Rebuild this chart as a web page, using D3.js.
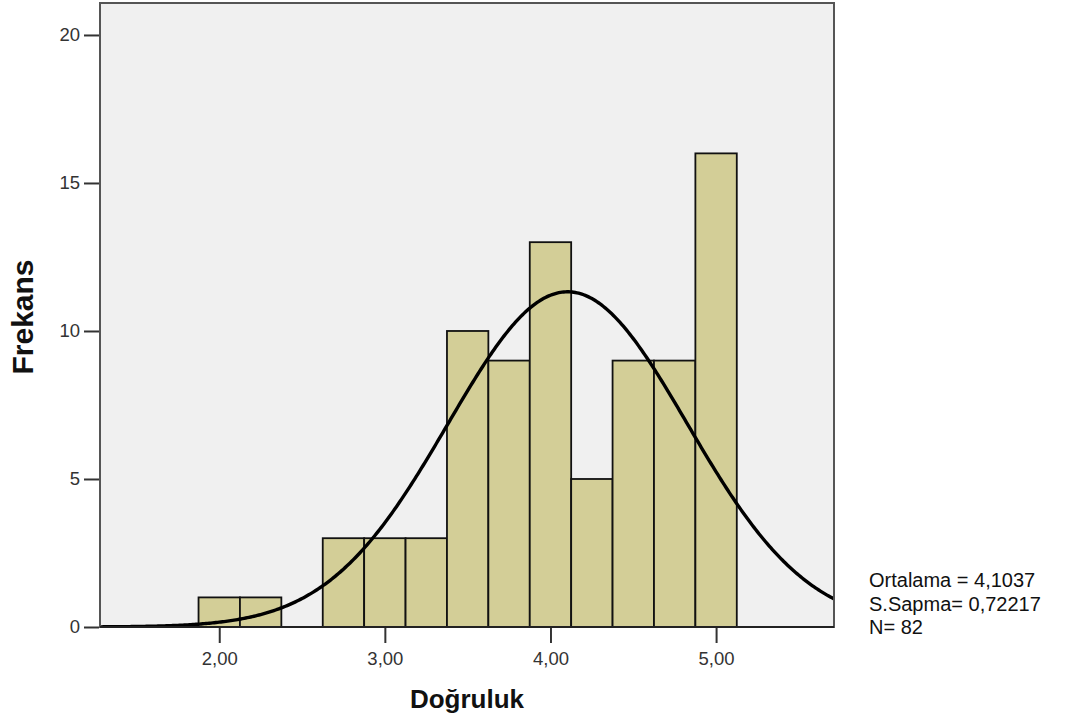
<!DOCTYPE html>
<html><head><meta charset="utf-8">
<script src="https://cdn.jsdelivr.net/npm/d3@7"></script>
<style>body{margin:0;background:#fff}svg{display:block}text{font-family:"Liberation Sans",Arial,sans-serif}</style>
</head><body>
<svg id="c" width="1065" height="723"></svg>
<script>
const binStarts = [1.875,2.125,2.375,2.625,2.875,3.125,3.375,3.625,3.875,4.125,4.375,4.625,4.875];
const counts    = [1,1,0,3,3,3,10,9,13,5,9,9,16];
const binWidth = 0.25;
const xTicks = [2,3,4,5];
const yTicks = [0,5,10,15,20];
const mean = 4.1037, sd = 0.72217, N = 82;
const statLines = ["Ortalama = 4,1037","S.Sapma= 0,72217","N= 82"];

const svg = d3.select("#c");
const L=100, R=834, T=3, B=627;
const x = d3.scaleLinear().domain([1.28,5.712]).range([L,R]);
const y = d3.scaleLinear().domain([0,21.08]).range([B,T]);

svg.append("rect").attr("x",L).attr("y",T).attr("width",R-L).attr("height",B-T).attr("fill","#f0f0f0");
svg.append("clipPath").attr("id","pc").append("rect").attr("x",L).attr("y",T).attr("width",R-L).attr("height",B-T);

const g = svg.append("g").attr("clip-path","url(#pc)");
g.selectAll("rect.bar").data(binStarts.map((s,i)=>({s,c:counts[i]})).filter(d=>d.c>0)).enter().append("rect")
 .attr("class","bar")
 .attr("x",d=>x(d.s)).attr("width",d=>x(d.s+binWidth)-x(d.s))
 .attr("y",d=>y(d.c)).attr("height",d=>y(0)-y(d.c))
 .attr("fill","#d3ce97").attr("stroke","#111").attr("stroke-width",1.8);

const pdf = v => N*binWidth/(sd*Math.sqrt(2*Math.PI))*Math.exp(-0.5*((v-mean)/sd)**2);
const xs = d3.range(1.28,5.72,0.01);
g.append("path").datum(xs).attr("fill","none").attr("stroke","#000").attr("stroke-width",3.4)
 .attr("d",d3.line().x(v=>x(v)).y(v=>y(pdf(v))));

// frame
svg.append("rect").attr("x",L).attr("y",T).attr("width",R-L).attr("height",B-T).attr("fill","none").attr("stroke","#555").attr("stroke-width",2);
svg.append("line").attr("x1",L).attr("x2",R).attr("y1",B).attr("y2",B).attr("stroke","#222").attr("stroke-width",2);

// axes
const ya = svg.append("g").attr("transform",`translate(${L-1},0)`)
 .call(d3.axisLeft(y).tickValues(yTicks).tickSize(15).tickPadding(4).tickFormat(d3.format("d")));
ya.select(".domain").remove();
ya.selectAll("line").attr("stroke","#333").attr("stroke-width",2);
ya.selectAll("text").attr("font-size",18.5).attr("fill","#333");

const xa = svg.append("g").attr("transform",`translate(0,${B+1})`)
 .call(d3.axisBottom(x).tickValues(xTicks).tickSize(15).tickPadding(9).tickFormat(d=>d.toFixed(2).replace(".",",")));
xa.select(".domain").remove();
xa.selectAll("line").attr("stroke","#333").attr("stroke-width",2);
xa.selectAll("text").attr("font-size",18.5).attr("fill","#333");

svg.append("text").attr("x",467).attr("y",708).attr("text-anchor","middle").attr("font-size",26).attr("font-weight","bold").attr("fill","#111").text("Doğruluk");
svg.append("text").attr("transform","translate(33,317) rotate(-90)").attr("text-anchor","middle").attr("font-size",30).attr("font-weight","bold").attr("fill","#111").text("Frekans");

svg.append("g").selectAll("text").data(statLines).enter().append("text")
 .attr("x",869).attr("y",(d,i)=>587+i*23.5).attr("font-size",20).attr("fill","#111").text(d=>d);
</script>
</body></html>
